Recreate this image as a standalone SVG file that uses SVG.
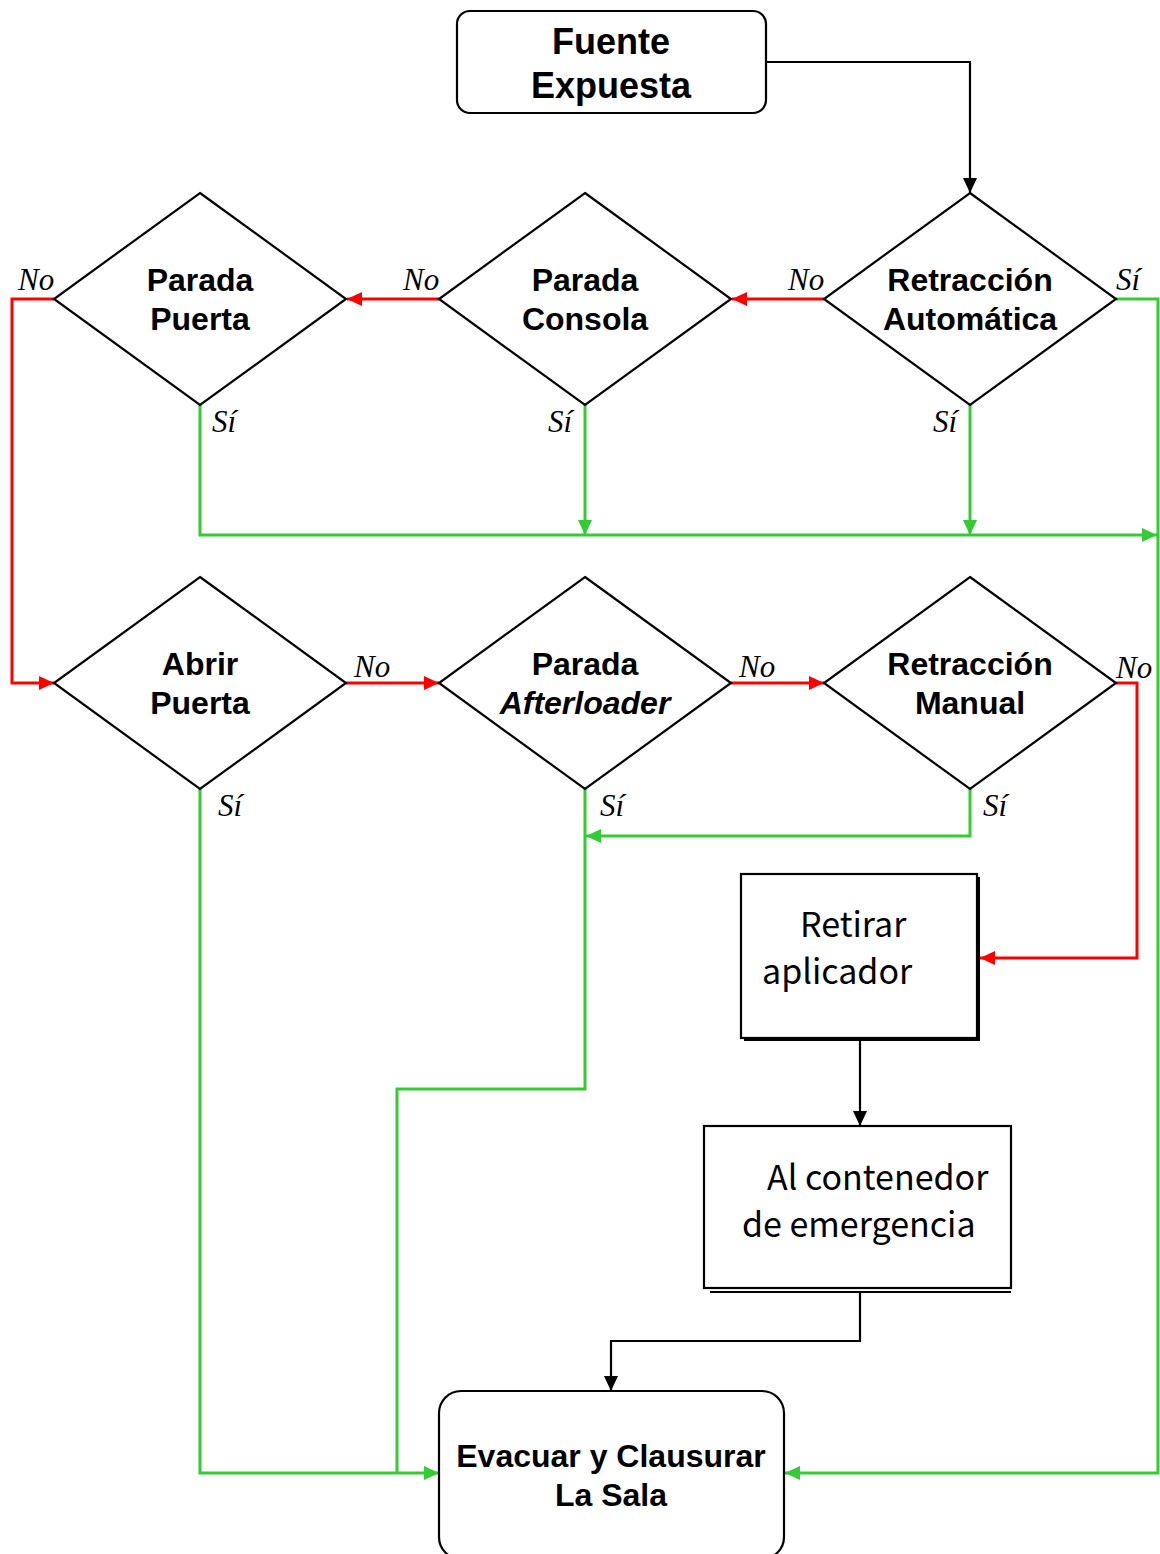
<svg xmlns="http://www.w3.org/2000/svg" width="1160" height="1554" viewBox="0 0 1160 1554">
<defs>
<marker id="ab" markerUnits="userSpaceOnUse" markerWidth="16" markerHeight="14" refX="15" refY="7" orient="auto"><path d="M0,0 L15,7 L0,14 Z" fill="#000"/></marker>
<marker id="ar" markerUnits="userSpaceOnUse" markerWidth="16" markerHeight="14" refX="15" refY="7" orient="auto"><path d="M0,0 L15,7 L0,14 Z" fill="#ff0000"/></marker>
<marker id="ag" markerUnits="userSpaceOnUse" markerWidth="16" markerHeight="14" refX="15" refY="7" orient="auto"><path d="M0,0 L15,7 L0,14 Z" fill="#33cc33"/></marker>
</defs>
<style>
.shape{fill:#fff;stroke:#000;stroke-width:2.2}
.dt{font-family:"Liberation Sans",Arial,sans-serif;font-weight:bold;font-size:32px;fill:#000;text-anchor:middle}
.bt{font-family:"Noto Sans CJK SC","Noto Sans",sans-serif;font-size:34px;fill:#000}
.lb{font-family:"Liberation Serif","Times New Roman",serif;font-style:italic;font-size:31px;fill:#000}
.k{fill:none;stroke:#000;stroke-width:2.2}
.r{fill:none;stroke:#ff0000;stroke-width:3}
.g{fill:none;stroke:#33cc33;stroke-width:3}
</style>
<rect width="1160" height="1554" fill="#fff"/>
<g id="connectors">
<path class="k" d="M766,62 H970 V193" marker-end="url(#ab)"/>
<path class="k" d="M860,1041 V1126" marker-end="url(#ab)"/>
<path class="k" d="M860,1293 V1341 H611 V1391" marker-end="url(#ab)"/>
<path class="r" d="M824,299 H732" marker-end="url(#ar)"/>
<path class="r" d="M439,299 H347" marker-end="url(#ar)"/>
<path class="r" d="M54,299 H12 V683 H54" marker-end="url(#ar)"/>
<path class="r" d="M346,683 H439" marker-end="url(#ar)"/>
<path class="r" d="M731,683 H824" marker-end="url(#ar)"/>
<path class="r" d="M1116,683 H1137 V958 H980" marker-end="url(#ar)"/>
<path class="g" d="M1116,299 H1158 V1473 H785" marker-end="url(#ag)"/>
<path class="g" d="M200,405 V535 H1157" marker-end="url(#ag)"/>
<path class="g" d="M585,405 V535" marker-end="url(#ag)"/>
<path class="g" d="M970,405 V535" marker-end="url(#ag)"/>
<path class="g" d="M200,789 V1473 H439" marker-end="url(#ag)"/>
<path class="g" d="M585,789 V1089 H397 V1473"/>
<path class="g" d="M970,789 V836 H586" marker-end="url(#ag)"/>
</g>
<g id="fuente">
<rect class="shape" x="457" y="11" width="309" height="102" rx="13"/>
<text class="dt" x="611" y="54" style="font-size:36px">Fuente</text>
<text class="dt" x="611" y="98" style="font-size:36px">Expuesta</text>
</g>
<g id="parada-puerta">
<polygon class="shape" points="200,193 346,299 200,405 54,299"/>
<text class="dt" x="200" y="291">Parada</text>
<text class="dt" x="200" y="330">Puerta</text>
</g>
<g id="parada-consola">
<polygon class="shape" points="585,193 731,299 585,405 439,299"/>
<text class="dt" x="585" y="291">Parada</text>
<text class="dt" x="585" y="330">Consola</text>
</g>
<g id="retraccion-automatica">
<polygon class="shape" points="970,193 1116,299 970,405 824,299"/>
<text class="dt" x="970" y="291">Retracción</text>
<text class="dt" x="970" y="330">Automática</text>
</g>
<g id="abrir-puerta">
<polygon class="shape" points="200,577 346,683 200,789 54,683"/>
<text class="dt" x="200" y="675">Abrir</text>
<text class="dt" x="200" y="714">Puerta</text>
</g>
<g id="parada-afterloader">
<polygon class="shape" points="585,577 731,683 585,789 439,683"/>
<text class="dt" x="585" y="675">Parada</text>
<text class="dt" x="585" y="714" font-style="italic">Afterloader</text>
</g>
<g id="retraccion-manual">
<polygon class="shape" points="970,577 1116,683 970,789 824,683"/>
<text class="dt" x="970" y="675">Retracción</text>
<text class="dt" x="970" y="714">Manual</text>
</g>
<g id="retirar-aplicador">
<rect x="744" y="877" width="236" height="164" fill="#000"/>
<rect class="shape" x="741" y="874" width="236" height="164"/>
<text class="bt" x="800" y="937">Retirar</text>
<text class="bt" x="762" y="984">aplicador</text>
</g>
<g id="contenedor">
<line x1="710" y1="1292" x2="1011" y2="1292" stroke="#000" stroke-width="2"/>
<rect class="shape" x="704" y="1126" width="307" height="162"/>
<text class="bt" x="767" y="1190">Al contenedor</text>
<text class="bt" x="742" y="1237">de emergencia</text>
</g>
<g id="evacuar">
<rect class="shape" x="439" y="1391" width="345" height="168" rx="22"/>
<text class="dt" x="611" y="1467">Evacuar y Clausurar</text>
<text class="dt" x="611" y="1506">La Sala</text>
</g>
<g id="labels">
<text class="lb" x="18" y="290">No</text>
<text class="lb" x="403" y="290">No</text>
<text class="lb" x="788" y="290">No</text>
<text class="lb" x="1116" y="290">Sí</text>
<text class="lb" x="212" y="432">Sí</text>
<text class="lb" x="548" y="432">Sí</text>
<text class="lb" x="933" y="432">Sí</text>
<text class="lb" x="354" y="677">No</text>
<text class="lb" x="739" y="677">No</text>
<text class="lb" x="1116" y="678">No</text>
<text class="lb" x="218" y="816">Sí</text>
<text class="lb" x="600" y="816">Sí</text>
<text class="lb" x="983" y="816">Sí</text>
</g>
</svg>
